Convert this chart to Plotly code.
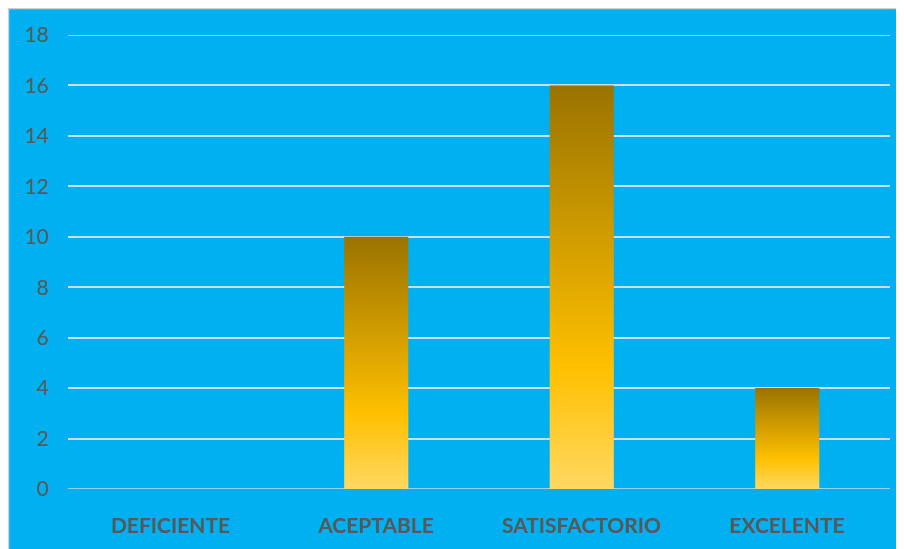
import plotly.graph_objects as go

categories = ["DEFICIENTE", "ACEPTABLE", "SATISFACTORIO", "EXCELENTE"]
values = [0, 10, 16, 4]
y_ticks = [0, 2, 4, 6, 8, 10, 12, 14, 16, 18]

# page body has an 8px margin; figure is sized to fill the rest of the window
W, H = 896, 541
ML, MR, MT, MB = 60, 14, 27, 58
PW, PH = W - ML - MR, H - MT - MB
BLUE = "#00B0F0"
TXT = "#595959"
GRID = "#C9DFEA"
half = 0.156

gradient = [[0.0, "#FFD862"], [0.3, "#FFC000"], [1.0, "#9A7300"]]

fig = go.Figure()
for i, (cat, v) in enumerate(zip(categories, values)):
    if v <= 0:
        continue
    fig.add_trace(go.Scatter(
        x=[i - half, i + half, i + half, i - half, i - half],
        y=[0, 0, v, v, 0],
        mode="lines",
        fill="toself",
        fillgradient=dict(type="vertical", colorscale=gradient),
        line=dict(width=0),
        name=cat,
        hoverinfo="text",
        text=f"{cat}: {v}",
        showlegend=False,
    ))

def px_x(px):
    return (px - ML) / PW

def px_y(py):
    return (H - MB - py) / PH

shapes = [
    dict(type="line", xref="paper", yref="paper", x0=px_x(0.5), x1=px_x(0.5), y0=px_y(H + 5), y1=px_y(0),
         line=dict(color="#D0D0D0", width=1.5), layer="below"),
    dict(type="line", xref="paper", yref="paper", x0=px_x(0), x1=px_x(W + 5), y0=px_y(0.5), y1=px_y(0.5),
         line=dict(color="#D0D0D0", width=1.5), layer="below"),
]

fig.update_layout(
    width=W, height=H,
    margin=dict(l=ML, r=MR, t=MT, b=MB, pad=0),
    paper_bgcolor=BLUE,
    plot_bgcolor=BLUE,
    showlegend=False,
    shapes=shapes,
    xaxis=dict(
        range=[-0.5, 3.5],
        tickvals=list(range(len(categories))),
        ticktext=categories,
        showgrid=False, zeroline=False, showline=False,
        ticks="", ticklabelstandoff=22,
        tickfont=dict(family="Lato, 'Liberation Sans', Arial, sans-serif", size=21, color=TXT, weight="bold"),
        fixedrange=True,
    ),
    yaxis=dict(
        range=[0, 18],
        tickvals=y_ticks,
        showgrid=True, gridcolor=GRID, gridwidth=1.5,
        zeroline=False, showline=False,
        ticks="", ticklabelstandoff=18,
        tickfont=dict(family="Lato, 'Liberation Sans', Arial, sans-serif", size=21, color=TXT),
        fixedrange=True,
    ),
)
fig.add_hline(y=y_ticks[0], line=dict(color=GRID, width=1.5), layer="below")
fig.add_hline(y=y_ticks[-1], line=dict(color=GRID, width=1.5), layer="below")

fig.write_html("out.html")
